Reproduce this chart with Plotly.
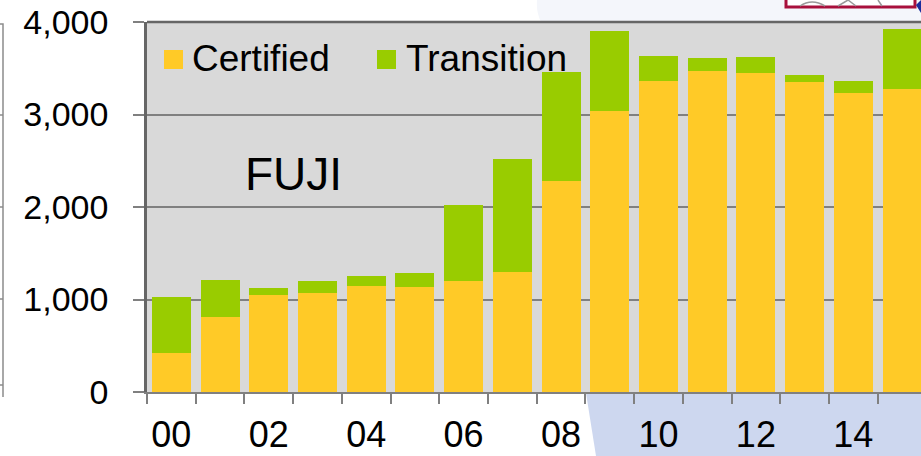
import plotly.graph_objects as go

years = ["00", "01", "02", "03", "04", "05", "06", "07", "08", "09", "10", "11", "12", "13", "14", "15"]
certified = [425, 807, 1049, 1070, 1146, 1135, 1195, 1297, 2278, 3040, 3362, 3474, 3449, 3355, 3236, 3273]
total = [1028, 1211, 1124, 1198, 1257, 1286, 2022, 2519, 3457, 3905, 3629, 3611, 3622, 3427, 3366, 3924]
transition = [t - c for t, c in zip(total, certified)]
ytick_vals = [0, 1000, 2000, 3000, 4000]
ytick_text = ["0", "1,000", "2,000", "3,000", "4,000"]
xtick_text = [y if int(y) % 2 == 0 else "" for y in years]

W, H = 921, 456
L, T, B = 147, 22, 392
PW, PH = W - L, B - T


def px(x):
    return (x - L) / PW


def py(y):
    return (B - y) / PH


YELLOW = "#FFCA27"
GREEN = "#99CC00"
FONT = "Liberation Sans, Arial, sans-serif"

fig = go.Figure()
fig.add_trace(go.Bar(x=years, y=certified, name="Certified", marker=dict(color=YELLOW, line=dict(width=0))))
fig.add_trace(go.Bar(x=years, y=transition, name="Transition", marker=dict(color=GREEN, line=dict(width=0))))

shapes = []
# background decorations
shapes.append(dict(type="path", xref="paper", yref="paper", layer="below",
                   path=f"M {px(537)} {py(0)} Q {px(536)} {py(12)} {px(541)} {py(22)} L {px(921)} {py(22)} L {px(921)} {py(0)} Z",
                   fillcolor="#F4F6FB", line=dict(width=0)))
shapes.append(dict(type="path", xref="paper", yref="paper", layer="below",
                   path=f"M {px(586)} {py(393)} L {px(921)} {py(393)} L {px(921)} {py(456)} L {px(596)} {py(456)} Z",
                   fillcolor="#CDD7EF", line=dict(width=0)))
shapes.append(dict(type="rect", xref="paper", yref="paper", layer="below",
                   x0=px(786), x1=px(915), y0=py(-4), y1=py(7),
                   fillcolor="white", line=dict(color="#A8103C", width=3)))
shapes.append(dict(type="path", xref="paper", yref="paper", layer="below",
                   path=f"M {px(800)} {py(6)} Q {px(812)} {py(-2)} {px(825)} {py(6)} M {px(838)} {py(6)} L {px(848)} {py(0)} L {px(856)} {py(6)} M {px(878)} {py(0)} L {px(882)} {py(6)}",
                   line=dict(color="#999999", width=1.5)))
shapes.append(dict(type="path", xref="paper", yref="paper", layer="below",
                   path=f"M {px(916)} {py(5)} L {px(921)} {py(0)} L {px(921)} {py(13)} Z",
                   fillcolor="#1A2C9C", line=dict(width=0)))
# left neighbouring box edge
shapes.append(dict(type="path", xref="paper", yref="paper", layer="below",
                   path=f"M {px(-5)} {py(24)} L {px(3)} {py(24)} L {px(3)} {py(397)} "
                        f"M {px(-5)} {py(115)} L {px(3)} {py(115)} M {px(-5)} {py(207)} L {px(3)} {py(207)} "
                        f"M {px(-5)} {py(299)} L {px(3)} {py(299)} M {px(-5)} {py(385)} L {px(3)} {py(385)}",
                   line=dict(color="#8C8C8C", width=1.5)))
# top border of plot box
shapes.append(dict(type="line", xref="paper", yref="paper", layer="above",
                   x0=0, x1=1, y0=1, y1=1, line=dict(color="#666666", width=2.5)))
# custom legend swatches
shapes.append(dict(type="rect", xref="paper", yref="paper", layer="above",
                   x0=px(164), x1=px(183), y0=py(69), y1=py(50), fillcolor=YELLOW, line=dict(width=0)))
shapes.append(dict(type="rect", xref="paper", yref="paper", layer="above",
                   x0=px(377), x1=px(396), y0=py(69), y1=py(50), fillcolor=GREEN, line=dict(width=0)))

annotations = [
    dict(text="Certified", xref="paper", yref="paper", x=px(190), y=py(59), xanchor="left", yanchor="middle",
         showarrow=False, font=dict(size=37, color="black", family=FONT)),
    dict(text="Transition", xref="paper", yref="paper", x=px(404), y=py(59), xanchor="left", yanchor="middle",
         showarrow=False, font=dict(size=37, color="black", family=FONT)),
    dict(text="FUJI", xref="paper", yref="paper", x=px(243), y=py(174), xanchor="left", yanchor="middle",
         showarrow=False, font=dict(size=46, color="black", family=FONT)),
]

fig.update_layout(
    width=W, height=H,
    margin=dict(l=L, r=0, t=T, b=H - B, pad=0, autoexpand=False),
    barmode="stack", bargap=0.2,
    plot_bgcolor="#D9D9D9", paper_bgcolor="white",
    showlegend=False,
    font=dict(family=FONT, color="black"),
    shapes=shapes, annotations=annotations,
    xaxis=dict(type="category", categoryorder="array", categoryarray=years,
               tickmode="array", tickvals=years, ticktext=xtick_text, tickangle=0,
               tickson="boundaries", ticks="outside", ticklen=10, tickwidth=1.5, tickcolor="#808080",
               showgrid=False, showline=True, linecolor="#808080", linewidth=1.5,
               range=[-0.5, 15.39], tickfont=dict(size=36, color="black", family=FONT),
               ticklabelstandoff=10, automargin=False),
    yaxis=dict(range=[0, 4000], tickmode="array", tickvals=ytick_vals, ticktext=ytick_text,
               ticks="outside", ticklen=11, tickwidth=1.5, tickcolor="#808080",
               showgrid=True, gridcolor="#808080", gridwidth=1.5, zeroline=False,
               showline=True, linecolor="#666666", linewidth=2.5,
               tickfont=dict(size=34, color="black", family=FONT), ticklabelstandoff=18,
               automargin=False),
)

fig.write_html(
    "out.html",
    config={"displayModeBar": False},
    post_script="document.body.style.margin='0px';document.body.style.overflow='hidden';",
)
